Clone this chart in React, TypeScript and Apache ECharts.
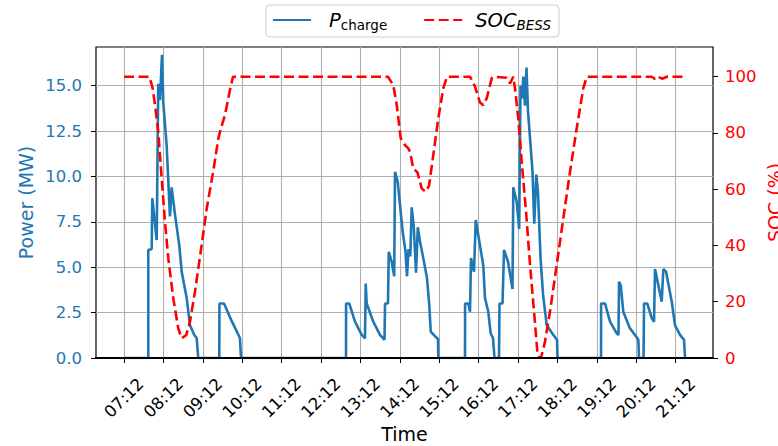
import React, { useEffect, useRef } from 'react';
import * as echarts from 'echarts';

// x axis: minutes after 07:12
const timeTickMinutes = [0, 60, 120, 180, 240, 300, 360, 420, 480, 540, 600, 660, 720, 780, 840];
const timeTickLabels = ['07:12', '08:12', '09:12', '10:12', '11:12', '12:12', '13:12', '14:12', '15:12', '16:12', '17:12', '18:12', '19:12', '20:12', '21:12'];
const powerTicks = [0, 2.5, 5, 7.5, 10, 12.5, 15];
const socTicks = [0, 20, 40, 60, 80, 100];

// [minutes after 07:12, MW]
const chargePower: [number, number][] = [
  [0, 0], [37.0, 0], [37.0, 5.95], [42.2, 6.0], [43.1, 8.8], [49.8, 6.5], [52.2, 15.1], [54.8, 14.2],
  [57.9, 16.7], [59.8, 14.1], [65.0, 11.7], [70.0, 7.8], [72.6, 9.4], [77.7, 7.9], [84.2, 6.2], [87.9, 4.75],
  [95.5, 3.3], [100.5, 1.8], [107.1, 1.27], [110.7, 1.1], [113.1, 0],
  [145.1, 0], [145.4, 3.0], [152.3, 3.0], [164.5, 2.0], [176.6, 1.1], [178.2, 0],
  [338.1, 0], [338.2, 3.0], [343.1, 3.0], [351.8, 2.0], [362.0, 1.27], [367.0, 1.08], [368.1, 4.1], [369.6, 3.0],
  [379.6, 2.0], [389.8, 1.27], [396.7, 1.0], [397.5, 3.0], [402.0, 3.0], [403.2, 5.85], [407.7, 5.3], [411.5, 4.5],
  [412.7, 10.25], [416.8, 9.7], [424.4, 6.95], [428.7, 5.85], [431.0, 4.5], [433.2, 6.0], [436.0, 5.6], [438.1, 8.3],
  [441.2, 7.25], [444.7, 4.7], [447.4, 7.2], [450.8, 6.4], [455.8, 5.5], [461.4, 4.4], [464.9, 2.9], [467.1, 1.45],
  [473.6, 1.2], [478.2, 1.05], [478.6, 0],
  [519.3, 0], [519.4, 3.0], [524.3, 3.0], [526.9, 2.55], [528.4, 5.5], [533.0, 4.75], [535.6, 7.6], [542.1, 6.2],
  [547.1, 5.1], [549.7, 3.3], [554.7, 2.55], [558.4, 1.35], [561.9, 1.1], [564.2, 0],
  [571.1, 0], [571.8, 3.0], [576.4, 3.0], [578.7, 5.95], [584.8, 5.3], [591.6, 3.8], [592.8, 9.4], [598.0, 8.6],
  [601.8, 7.1], [603.8, 15.0], [606.1, 14.3], [608.1, 15.5], [610.6, 13.9], [612.9, 16.0], [615.2, 13.6],
  [622.1, 10.25], [624.7, 7.4], [627.9, 10.1], [630.4, 9.15], [634.3, 5.5], [638.1, 3.5], [643.7, 1.8],
  [653.3, 1.3], [659.4, 1.0], [660.1, 0],
  [726.4, 0], [726.5, 3.0], [732.5, 3.0], [740.1, 2.0], [750.3, 1.36], [753.0, 1.27], [753.8, 4.2], [756.4, 4.0],
  [760.3, 2.55], [770.5, 1.63], [778.2, 1.27], [783.2, 1.0], [784.2, 0],
  [791.1, 0], [791.9, 3.0], [796.9, 3.0], [803.6, 2.2], [807.1, 2.0], [808.6, 4.9], [813.7, 4.0], [818.8, 3.1],
  [821.3, 4.9], [825.4, 4.75], [834.1, 3.1], [839.1, 1.8], [846.7, 1.27], [852.8, 1.0], [854.3, 0],
];

// [minutes after 07:12, %]
const socBess: [number, number][] = [
  [0, 100], [38.8, 100], [43.7, 95.9], [47.2, 90], [52.2, 80.4], [57.4, 63.9], [62.4, 48.5], [67.5, 35.4],
  [75.1, 21.2], [82.7, 10.5], [87.9, 7.0], [94.9, 8.2], [100.5, 12.9], [108.1, 23.6], [118.3, 40.2], [125.9, 53],
  [136.0, 66.5], [143.6, 78], [147.7, 81.7], [153.8, 86.4], [161.4, 95.3], [166.0, 100],
  [402.0, 100], [410.1, 97], [415.3, 90], [421.4, 78.1], [427.9, 75.7], [432.9, 74.5], [435.5, 73.3],
  [440.5, 67.4], [446.9, 66], [453.3, 60.3], [459.1, 59.1], [464.5, 61.2], [471.0, 72.2], [478.6, 85.2],
  [486.2, 95.9], [491.9, 100], [526.9, 100], [534.5, 96.5], [542.1, 90.8], [547.1, 89.9], [552.3, 92.3],
  [559.9, 99.4], [563.4, 100], [582.8, 99.6], [587.8, 97.6], [592.8, 100], [595.4, 95.9], [600.4, 85.2],
  [605.6, 69.8], [612.2, 52], [618.3, 33.1], [624.4, 16.5], [629.4, 2.2], [632.4, 0], [635.0, 0], [641.1, 5.8],
  [648.7, 16.5], [658.9, 33.1], [669.0, 49.7], [679.2, 66.2], [689.4, 81.7], [699.4, 95.9], [704.6, 100],
  [803.6, 100], [808.6, 99.2], [813.2, 100], [819.3, 99.3], [826.9, 100], [854.3, 100],
];

const FONT = 'DejaVu Sans';
const BLUE = '#1f77b4';
const RED = '#ff0000';

export default function App() {
  const ref = useRef<HTMLDivElement>(null);
  useEffect(() => {
    if (!ref.current) return;
    const chart = echarts.init(ref.current, undefined, { renderer: 'svg' });
    const tickStyle = { show: true, length: 5, inside: false, lineStyle: { color: '#000', width: 1 } };
    chart.setOption({
      animation: false,
      backgroundColor: '#fff',
      textStyle: { fontFamily: FONT },
      grid: {
        left: 96, right: 65, top: 47, bottom: 88,
        show: true, borderColor: '#000', borderWidth: 1.2, backgroundColor: 'transparent',
        outerBoundsMode: 'none', containLabel: false,
      },
      legend: {
        left: 266, top: 5,
        padding: [5, 8, 5, 6],
        itemGap: 36,
        itemWidth: 38, itemHeight: 14,
        borderColor: '#cccccc', borderWidth: 1, borderRadius: 4, backgroundColor: '#fff',
        itemStyle: { opacity: 0 },
        data: ['P_charge', 'SOC_BESS'],
        formatter: (name: string) => (name === 'P_charge' ? '{m|P}{s|charge}' : '{n|SOC}{t|BESS}'),
        textStyle: {
          fontFamily: FONT, color: '#000',
          rich: {
            m: { fontFamily: FONT, fontStyle: 'italic', fontSize: 19.5, lineHeight: 24, padding: [0, 0, 0, 13], verticalAlign: 'middle' },
            s: { fontFamily: FONT, fontSize: 13.5, lineHeight: 14, verticalAlign: 'bottom' },
            n: { fontFamily: FONT, fontStyle: 'italic', fontSize: 19.5, lineHeight: 24, padding: [0, 0, 0, 8], verticalAlign: 'middle' },
            t: { fontFamily: FONT, fontStyle: 'italic', fontSize: 13.5, lineHeight: 14, verticalAlign: 'bottom' },
          },
        },
      },
      xAxis: [
        {
          type: 'value', position: 'bottom',
          min: -42.6, max: 896.9,
          minInterval: 60, maxInterval: 60,
          name: 'Time', nameLocation: 'middle', nameGap: 66, nameMoveOverlap: false,
          nameTextStyle: { fontFamily: FONT, fontSize: 19, color: '#000' },
          axisLine: { show: false, onZero: false },
          axisTick: { ...tickStyle, customValues: timeTickMinutes },
          axisLabel: {
            customValues: timeTickMinutes,
            rotate: 45, align: 'center', verticalAlign: 'middle', margin: 40,
            fontFamily: FONT, fontSize: 16.5, color: '#000',
            formatter: (v: number) => {
              const i = timeTickMinutes.indexOf(Math.round(v));
              return i >= 0 ? timeTickLabels[i] : '';
            },
          },
          splitLine: { show: true, lineStyle: { color: '#b0b0b0', width: 1.1 } },
        },
        {
          // bottom spine drawn above the series, as in the original plot
          type: 'value', position: 'bottom', gridIndex: 0,
          min: -42.6, max: 896.9, z: 10,
          axisLine: { show: true, onZero: false, lineStyle: { color: '#000', width: 2 } },
          axisTick: { show: false }, axisLabel: { show: false }, splitLine: { show: false },
        },
      ],
      yAxis: [
        {
          type: 'value', position: 'left',
          min: 0, max: 17.13, interval: 2.5,
          name: 'Power (MW)', nameLocation: 'middle', nameGap: 61, nameMoveOverlap: false,
          nameTextStyle: { fontFamily: FONT, fontSize: 19, color: BLUE },
          axisLine: { show: false, onZero: false },
          axisTick: { ...tickStyle, customValues: powerTicks },
          axisLabel: {
            customValues: powerTicks, margin: 14,
            fontFamily: FONT, fontSize: 16.5, color: BLUE,
            formatter: (v: number) => v.toFixed(1),
          },
          splitLine: { show: true, lineStyle: { color: '#b0b0b0', width: 1.1 } },
        },
        {
          type: 'value', position: 'right',
          min: 0, max: 110.56, interval: 20,
          name: 'SOC (%)', nameLocation: 'middle', nameGap: 52, nameMoveOverlap: false,
          nameTextStyle: { fontFamily: FONT, fontSize: 19, color: RED },
          axisLine: { show: false, onZero: false },
          axisTick: { ...tickStyle, customValues: socTicks },
          axisLabel: {
            customValues: socTicks, margin: 12,
            fontFamily: FONT, fontSize: 16.5, color: RED,
            formatter: (v: number) => String(Math.round(v)),
          },
          splitLine: { show: false },
        },
      ],
      series: [
        {
          name: 'P_charge', type: 'line', xAxisIndex: 0, yAxisIndex: 0,
          data: chargePower, symbol: 'none', showSymbol: false,
          color: BLUE,
          lineStyle: { color: BLUE, width: 2.6 },
          z: 3,
        },
        {
          name: 'SOC_BESS', type: 'line', xAxisIndex: 0, yAxisIndex: 1,
          data: socBess, symbol: 'none', showSymbol: false,
          color: RED,
          lineStyle: { color: RED, width: 2.6, type: [10, 4.5] },
          z: 4,
        },
      ],
    });
    return () => chart.dispose();
  }, []);
  return <div ref={ref} style={{ position: 'fixed', left: 0, top: 0, width: 778, height: 446 }} />;
}
